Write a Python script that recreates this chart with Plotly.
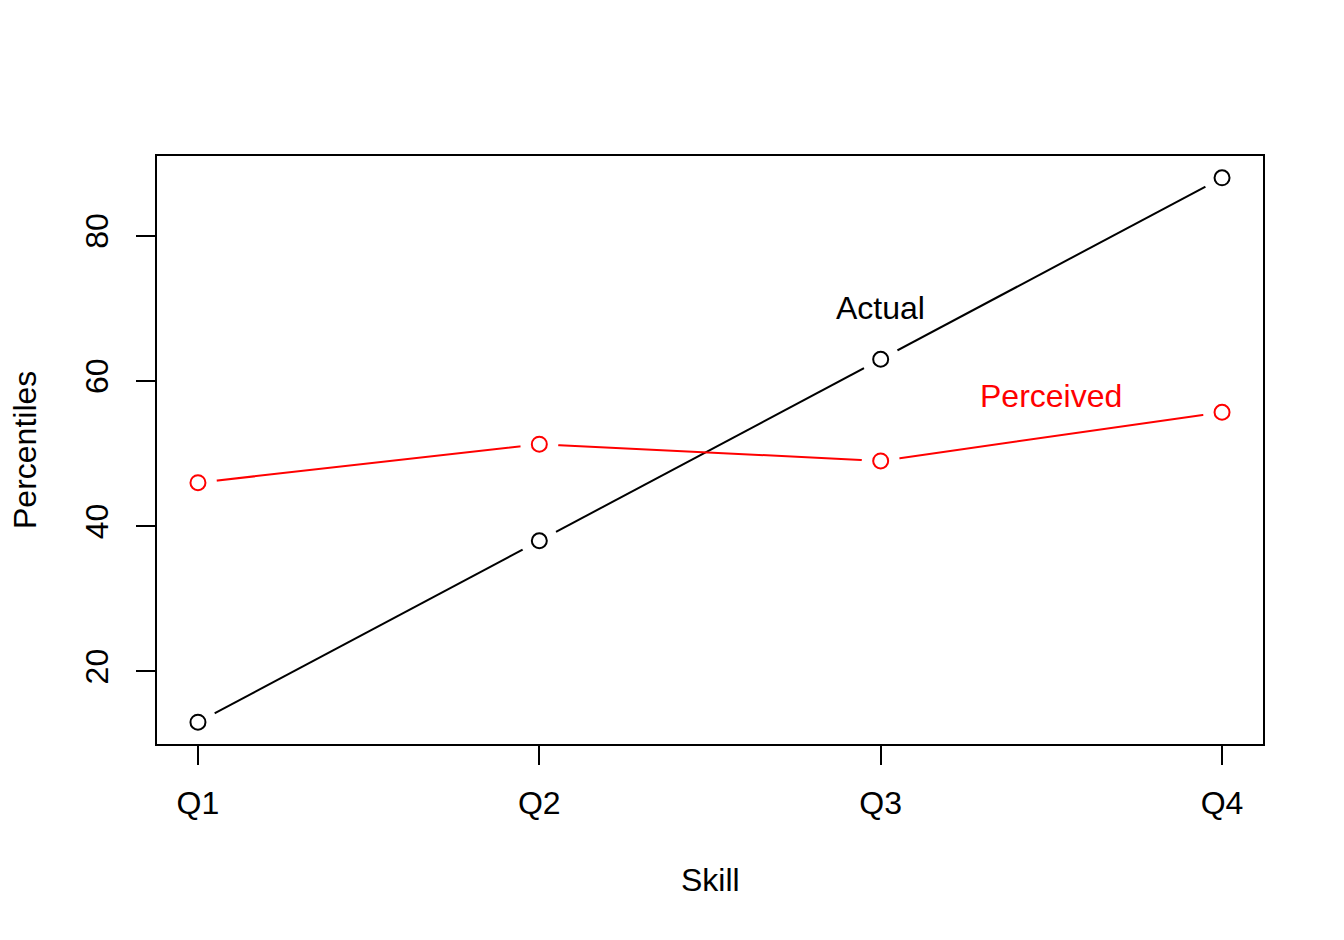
import plotly.graph_objects as go

categories = ["Q1", "Q2", "Q3", "Q4"]
x_pos = [1, 2, 3, 4]
actual = [13, 38, 63, 88]
perceived = [46, 51.3, 49, 55.7]
y_ticks = [20, 40, 60, 80]

FONT = "Liberation Sans, Arial, Helvetica, sans-serif"
FS = 32

fig = go.Figure()

for vals, col in [(actual, "black"), (perceived, "red")]:
    fig.add_trace(go.Scatter(x=x_pos, y=vals, mode="lines",
                             line=dict(color=col, width=2), hoverinfo="skip", showlegend=False))
    fig.add_trace(go.Scatter(x=x_pos, y=vals, mode="markers",
                             marker=dict(color="white", size=38, line=dict(width=0)),
                             hoverinfo="skip", showlegend=False))
    fig.add_trace(go.Scatter(x=x_pos, y=vals, mode="markers",
                             marker=dict(symbol="circle-open", color=col, size=15, line=dict(width=2, color=col)),
                             showlegend=False))

fig.add_annotation(x=3, y=70, text="Actual", showarrow=False,
                   font=dict(family=FONT, size=FS, color="black"))
fig.add_annotation(x=3.5, y=58, text="Perceived", showarrow=False,
                   font=dict(family=FONT, size=FS, color="red"))

PW = 1263 - 157
PH = 744 - 156
fig.add_annotation(xref="paper", yref="paper", x=(710-157)/PW, y=-(880-744)/PH,
                   xanchor="center", yanchor="middle",
                   text="Skill", showarrow=False, font=dict(family=FONT, size=FS, color="black"))
fig.add_annotation(xref="paper", yref="paper", x=-(157-25)/PW, y=(744-450)/PH,
                   xanchor="center", yanchor="middle",
                   text="Percentiles", textangle=-90, showarrow=False,
                   font=dict(family=FONT, size=FS, color="black"))

fig.update_layout(
    width=1344, height=940,
    margin=dict(l=149, r=89, t=148, b=204),
    paper_bgcolor="white", plot_bgcolor="white",
    font=dict(family=FONT, size=FS, color="black"),
    showlegend=False,
)
fig.update_xaxes(range=[0.88, 4.12], tickvals=x_pos, ticktext=categories,
                 showgrid=False, zeroline=False, showline=True, mirror=True,
                 linecolor="black", linewidth=2, ticks="outside", ticklen=19, tickwidth=2,
                 tickcolor="black", ticklabelstandoff=11)
fig.update_yaxes(range=[10, 91], tickvals=y_ticks, tickangle=-90,
                 showgrid=False, zeroline=False, showline=True, mirror=True,
                 linecolor="black", linewidth=2, ticks="outside", ticklen=19, tickwidth=2,
                 tickcolor="black", ticklabelstandoff=15)

fig.write_html("out.html")
